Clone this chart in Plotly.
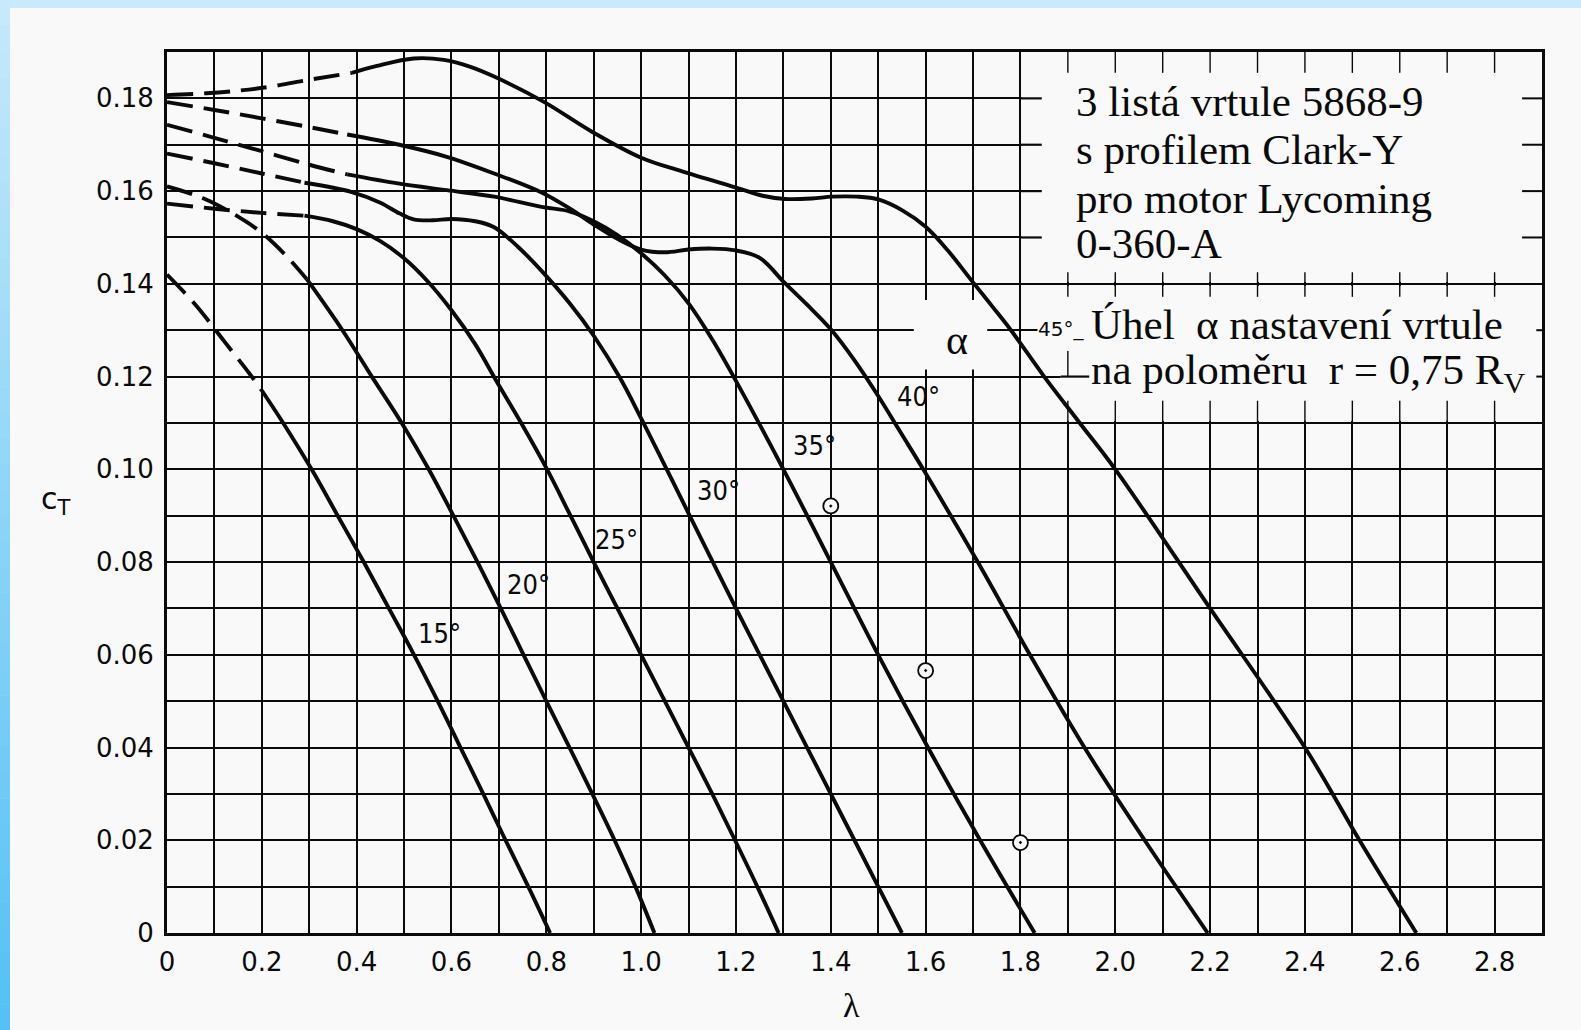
import plotly.graph_objects as go

# ---------------- tick labels ----------------
X_TICKVALS = [0.0, 0.2, 0.4, 0.6, 0.8, 1.0, 1.2, 1.4, 1.6, 1.8, 2.0, 2.2, 2.4, 2.6, 2.8]
X_TICKTEXT = ["0", "0.2", "0.4", "0.6", "0.8", "1.0", "1.2", "1.4", "1.6", "1.8", "2.0",
              "2.2", "2.4", "2.6", "2.8"]
Y_TICKVALS = [0.0, 0.02, 0.04, 0.06, 0.08, 0.10, 0.12, 0.14, 0.16, 0.18]
Y_TICKTEXT = ["0", "0.02", "0.04", "0.06", "0.08", "0.10", "0.12", "0.14", "0.16", "0.18"]

# ---------------- curves: lambda / cT, dashed (extrapolated) + solid parts ----------------
A15_DASH_L = [0.0, 0.06, 0.12, 0.175, 0.20]
A15_DASH_C = [0.142, 0.1355, 0.1277, 0.1205, 0.1170]
A15_L = [0.20, 0.245, 0.305, 0.36, 0.415, 0.468, 0.521, 0.571, 0.619, 0.667, 0.714, 0.762, 0.808]
A15_C = [0.1170, 0.110, 0.100, 0.090, 0.080, 0.070, 0.060, 0.050, 0.040, 0.030, 0.020, 0.010, 0.0]

A20_DASH_L = [0.0, 0.075, 0.15, 0.20, 0.25, 0.295]
A20_DASH_C = [0.161, 0.1585, 0.1545, 0.151, 0.1462, 0.141]
A20_L = [0.295, 0.37, 0.432, 0.495, 0.552, 0.604, 0.655, 0.704, 0.752, 0.80, 0.849, 0.897,
         0.944, 0.988, 1.028]
A20_C = [0.141, 0.130, 0.120, 0.110, 0.100, 0.090, 0.080, 0.070, 0.060, 0.050, 0.040, 0.030,
         0.020, 0.010, 0.0]

A25_DASH_L = [0.0, 0.10, 0.20, 0.29]
A25_DASH_C = [0.1573, 0.1562, 0.1553, 0.1547]
A25_L = [0.29, 0.35, 0.40, 0.45, 0.50, 0.55, 0.60, 0.65, 0.695, 0.747, 0.80, 0.851, 0.90,
         0.95, 1.00, 1.05, 1.10, 1.15, 1.198, 1.245, 1.29]
A25_C = [0.1547, 0.1535, 0.1518, 0.1492, 0.1455, 0.1405, 0.1343, 0.127, 0.119, 0.110, 0.1003,
         0.090, 0.080, 0.070, 0.060, 0.050, 0.040, 0.030, 0.020, 0.010, 0.0]

A30_DASH_L = [0.0, 0.10, 0.20, 0.29]
A30_DASH_C = [0.1681, 0.166, 0.1638, 0.1618]
A30_L = [0.29, 0.39, 0.45, 0.49, 0.52, 0.56, 0.60, 0.65, 0.69, 0.74, 0.79, 0.85, 0.90, 0.955,
         1.00, 1.05, 1.10, 1.20, 1.30, 1.40, 1.50, 1.55]
A30_C = [0.1618, 0.1598, 0.1575, 0.1552, 0.1539, 0.1537, 0.1540, 0.1535, 0.1522, 0.148, 0.1428,
         0.1357, 0.1288, 0.1198, 0.111, 0.1008, 0.0905, 0.070, 0.050, 0.030, 0.010, 0.0]

A35_DASH_L = [0.0, 0.10, 0.20, 0.30, 0.38]
A35_DASH_C = [0.1743, 0.1715, 0.1686, 0.1657, 0.1636]
A35_L = [0.38, 0.49, 0.59, 0.69, 0.79, 0.85, 0.90, 0.95, 1.00, 1.05, 1.10, 1.15, 1.195, 1.30,
         1.40, 1.50, 1.605, 1.715, 1.83]
A35_C = [0.1636, 0.1616, 0.1602, 0.1588, 0.1566, 0.1556, 0.1535, 0.1505, 0.1466, 0.1418,
         0.1358, 0.128, 0.120, 0.100, 0.080, 0.060, 0.040, 0.020, 0.0]

A40_DASH_L = [0.0, 0.10, 0.20, 0.30, 0.38]
A40_DASH_C = [0.1792, 0.1775, 0.1757, 0.1738, 0.1722]
A40_L = [0.38, 0.49, 0.59, 0.69, 0.79, 0.85, 0.90, 0.95, 1.00, 1.05, 1.10, 1.15, 1.20, 1.25,
         1.30, 1.35, 1.40, 1.45, 1.50, 1.55, 1.595, 1.71, 1.82, 1.935, 2.062, 2.195]
A40_C = [0.1722, 0.170, 0.1674, 0.1638, 0.1597, 0.1562, 0.1528, 0.1497, 0.1474, 0.1468, 0.1474,
         0.1476, 0.1472, 0.1456, 0.1405, 0.1355, 0.1302, 0.1235, 0.1158, 0.1075, 0.100, 0.080,
         0.060, 0.040, 0.020, 0.0]

A45_DASH_L = [0.0, 0.083, 0.154, 0.217, 0.288, 0.39]
A45_DASH_C = [0.1807, 0.1811, 0.1817, 0.1825, 0.1838, 0.1855]
A45_L = [0.39, 0.443, 0.52, 0.584, 0.64, 0.69, 0.794, 0.898, 1.00, 1.085, 1.205, 1.256, 1.304,
         1.36, 1.403, 1.455, 1.50, 1.55, 1.60, 1.646, 1.697, 1.74, 1.78, 1.85, 1.925, 2.00,
         2.20, 2.40, 2.515, 2.635]
A45_C = [0.1855, 0.1870, 0.1886, 0.1883, 0.1868, 0.1847, 0.1793, 0.1727, 0.1672, 0.1643, 0.1606,
         0.1590, 0.1583, 0.1584, 0.1588, 0.1588, 0.1582, 0.1559, 0.1523, 0.1473, 0.1407, 0.1352,
         0.130, 0.120, 0.110, 0.100, 0.070, 0.040, 0.020, 0.0]

# operating points (circle with dot)
POINT_L = [1.4, 1.6, 1.8]
POINT_C = [0.0921, 0.0566, 0.0195]

# curve labels
ANGLE_TEXT = ["15°", "20°", "25°", "30°", "35°", "40°"]
ANGLE_LAB_L = [0.575, 0.762, 0.949, 1.163, 1.366, 1.584]
ANGLE_LAB_C = [0.0645, 0.0751, 0.0848, 0.0954, 0.1052, 0.1156]

INFO_LINES = ["3 listá vrtule 5868-9", "s profilem Clark-Y", "pro motor Lycoming", "0-360-A"]
INFO_Y = [0.1794, 0.1690, 0.1585, 0.1486]
ALPHA_LINES = ["Úhel\u00a0\u00a0α nastavení vrtule",
               "na poloměru\u00a0\u00a0r = 0,75 R<sub>V</sub>"]
ALPHA_Y = [0.1312, 0.1208]

# ---------------- geometry / style ----------------
W, H = 1581, 1030
ML, MR, MT, MB = 167, 39, 52, 97
PW, PH = W - ML - MR, H - MT - MB
XMAX, YMAX = 2.9, 0.19
INK = "#0a0a0a"
BG = "#f9f9f9"
SANS = "DejaVu Sans"
SANS_C = "DejaVu Sans Condensed, DejaVu Sans"
SERIF = "Liberation Serif, Times New Roman, serif"
LW = 3.9


def xp(px):
    return (px - ML) / PW


def yp(py):
    return (H - MB - py) / PH


fig = go.Figure()

curves = [
    (A15_DASH_L, A15_DASH_C, A15_L, A15_C),
    (A20_DASH_L, A20_DASH_C, A20_L, A20_C),
    (A25_DASH_L, A25_DASH_C, A25_L, A25_C),
    (A30_DASH_L, A30_DASH_C, A30_L, A30_C),
    (A35_DASH_L, A35_DASH_C, A35_L, A35_C),
    (A40_DASH_L, A40_DASH_C, A40_L, A40_C),
    (A45_DASH_L, A45_DASH_C, A45_L, A45_C),
]
for dl, dc, sl, sc in curves:
    fig.add_trace(go.Scatter(x=dl, y=dc, mode="lines", hoverinfo="skip", showlegend=False,
                             line=dict(color=INK, width=LW, dash="26px,11px",
                                       shape="spline", smoothing=1.0)))
    fig.add_trace(go.Scatter(x=sl, y=sc, mode="lines", hoverinfo="skip", showlegend=False,
                             line=dict(color=INK, width=LW, shape="spline", smoothing=1.0)))

fig.add_trace(go.Scatter(x=POINT_L, y=POINT_C, mode="markers", hoverinfo="skip",
                         showlegend=False,
                         marker=dict(symbol="circle-dot", size=15, color=BG,
                                     line=dict(color=INK, width=1.8))))

shapes = []


def rect(x0, x1, y0, y1):
    shapes.append(dict(type="rect", xref="x", yref="y", x0=x0, x1=x1, y0=y0, y1=y1,
                       fillcolor=BG, line=dict(width=0), layer="between"))


def seg(x0, y0, x1, y1, w):
    shapes.append(dict(type="line", xref="x", yref="y", x0=x0, y0=y0, x1=x1, y1=y1,
                       line=dict(color=INK, width=w), layer="between"))


# text boxes (upper right): grid blanked
rect(1.8025, 2.95, 0.1404, 0.195)
rect(1.885, 2.95, 0.1104, 0.1396)
# gap in the grid around alpha
rect(1.575, 1.73, 0.1215, 0.1365)

# stubs and ticks in the text boxes
for c in [0.15, 0.16, 0.17, 0.18]:
    seg(1.8, c, 1.845, c, 2.2)
    seg(2.858, c, 2.9, c, 2.0)
for k in range(10):
    lam = 1.9 + 0.1 * k
    seg(lam, 0.19, lam, 0.1855, 1.4)
    seg(lam, 0.1372, lam, 0.1425, 1.4)
    seg(lam, 0.11, lam, 0.1148, 1.4)
seg(1.885, 0.12, 1.945, 0.12, 2.2)
seg(1.9, 0.12, 1.9, 0.1255, 1.4)
for c in [0.12, 0.13]:
    seg(2.888, c, 2.9, c, 2.0)

# blue scan frame: top band + left gradient band
shapes.append(dict(type="rect", xref="paper", yref="paper", x0=xp(0), x1=xp(W), y0=yp(8),
                   y1=yp(0), fillcolor="rgb(200,234,252)", line=dict(width=0), layer="above"))
NB = 40
for i in range(NB):
    t = i / (NB - 1)
    r = int(198 + (86 - 198) * t)
    g = int(233 + (193 - 233) * t)
    b = int(251 + (244 - 251) * t)
    y_top = H * i / NB
    y_bot = H * (i + 1) / NB + 0.5
    shapes.append(dict(type="rect", xref="paper", yref="paper", x0=xp(0), x1=xp(10),
                       y0=yp(y_bot), y1=yp(y_top), fillcolor=f"rgb({r},{g},{b})",
                       line=dict(width=0), layer="above"))

annotations = []
for txt, lx, ly in zip(ANGLE_TEXT, ANGLE_LAB_L, ANGLE_LAB_C):
    annotations.append(dict(x=lx, y=ly, xref="x", yref="y", text=txt, showarrow=False,
                            font=dict(family=SANS_C, size=27, color=INK)))

annotations.append(dict(x=1.834, y=0.1303, xref="x", yref="y", text="45°_", showarrow=False,
                        xanchor="left", yanchor="middle",
                        font=dict(family=SANS, size=20, color=INK),
                        bgcolor=BG, borderpad=0))
annotations.append(dict(x=1.667, y=0.1278, xref="x", yref="y", text="α", showarrow=False,
                        font=dict(family=SERIF, size=42, color=INK)))

for txt, yy in zip(INFO_LINES, INFO_Y):
    annotations.append(dict(x=1.913, y=yy, xref="x", yref="y", text=txt, showarrow=False,
                            xanchor="left", yanchor="middle",
                            font=dict(family=SERIF, size=43, color=INK)))
for txt, yy in zip(ALPHA_LINES, ALPHA_Y):
    annotations.append(dict(x=1.945, y=yy, xref="x", yref="y", text=txt, showarrow=False,
                            xanchor="left", yanchor="middle",
                            font=dict(family=SERIF, size=43, color=INK)))

annotations.append(dict(x=xp(56), y=yp(500), xref="paper", yref="paper",
                        xanchor="center", yanchor="middle",
                        text="c<sub>T</sub>", showarrow=False,
                        font=dict(family=SANS, size=30, color=INK)))
annotations.append(dict(x=xp(851), y=yp(1005), xref="paper", yref="paper", text="λ",
                        xanchor="center", yanchor="middle",
                        showarrow=False, font=dict(family=SERIF, size=34, color=INK)))

fig.update_layout(
    width=W, height=H,
    margin=dict(l=ML, r=MR, t=MT, b=MB, pad=0),
    paper_bgcolor=BG, plot_bgcolor=BG,
    showlegend=False,
    shapes=shapes,
    annotations=annotations,
    xaxis=dict(range=[0, XMAX], tickmode="array", tickvals=X_TICKVALS, ticktext=X_TICKTEXT,
               showgrid=True, gridcolor=INK, gridwidth=1.5, zeroline=False,
               showline=True, mirror=True, linecolor=INK, linewidth=3, ticks="",
               ticklabelstandoff=4,
               tickfont=dict(family=SANS, size=26, color=INK),
               minor=dict(tickmode="linear", tick0=0, dtick=0.1, showgrid=True,
                          gridcolor=INK, gridwidth=1.5, ticks="")),
    yaxis=dict(range=[0, YMAX], tickmode="array", tickvals=Y_TICKVALS, ticktext=Y_TICKTEXT,
               showgrid=True, gridcolor=INK, gridwidth=2.2, zeroline=False,
               showline=True, mirror=True, linecolor=INK, linewidth=3, ticks="",
               ticklabelstandoff=5,
               tickfont=dict(family=SANS, size=26, color=INK),
               minor=dict(tickmode="linear", tick0=0, dtick=0.01, showgrid=True,
                          gridcolor=INK, gridwidth=2.2, ticks="")),
)

fig.write_html("out.html",
               config={"displayModeBar": False},
               post_script="document.body.style.margin='0px';"
                           "document.body.style.padding='0px';"
                           "document.body.style.overflow='hidden';")
